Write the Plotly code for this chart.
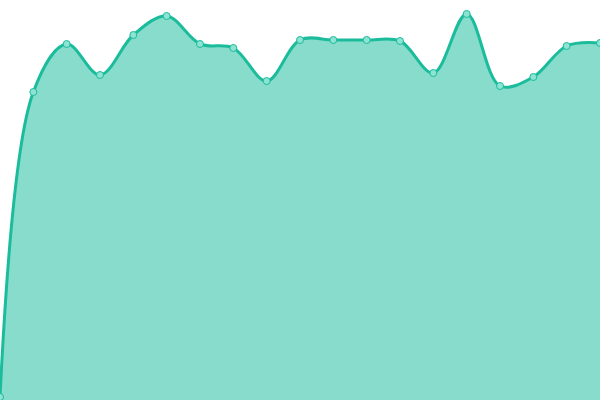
import plotly.graph_objects as go

# Point index along x and the value (0 = bottom edge, 400 = top)
x_index = list(range(19))
values = [3, 308, 356, 325, 365, 384, 356, 352, 319, 360, 360, 360, 359, 327, 386, 314, 323, 354, 357]

teal = "#1abc9c"

fig = go.Figure()
fig.add_trace(
    go.Scatter(
        x=x_index,
        y=values,
        mode="lines+markers",
        line=dict(color=teal, width=3, shape="spline", smoothing=1),
        fill="tozeroy",
        fillcolor="rgba(26,188,156,0.52)",
        marker=dict(size=7, color="#8ee3d2", line=dict(color=teal, width=1)),
        hoverinfo="skip",
    )
)

fig.update_layout(
    width=600,
    height=400,
    margin=dict(l=0, r=0, t=0, b=0),
    paper_bgcolor="white",
    plot_bgcolor="white",
    showlegend=False,
    xaxis=dict(visible=False, range=[0, 18]),
    yaxis=dict(visible=False, range=[0, 400]),
)

# the page body has a default 8px margin; drop it so the chart sits flush
fig.write_html(
    "out.html",
    config={"displayModeBar": False},
    post_script="document.body.style.margin='0';",
)
